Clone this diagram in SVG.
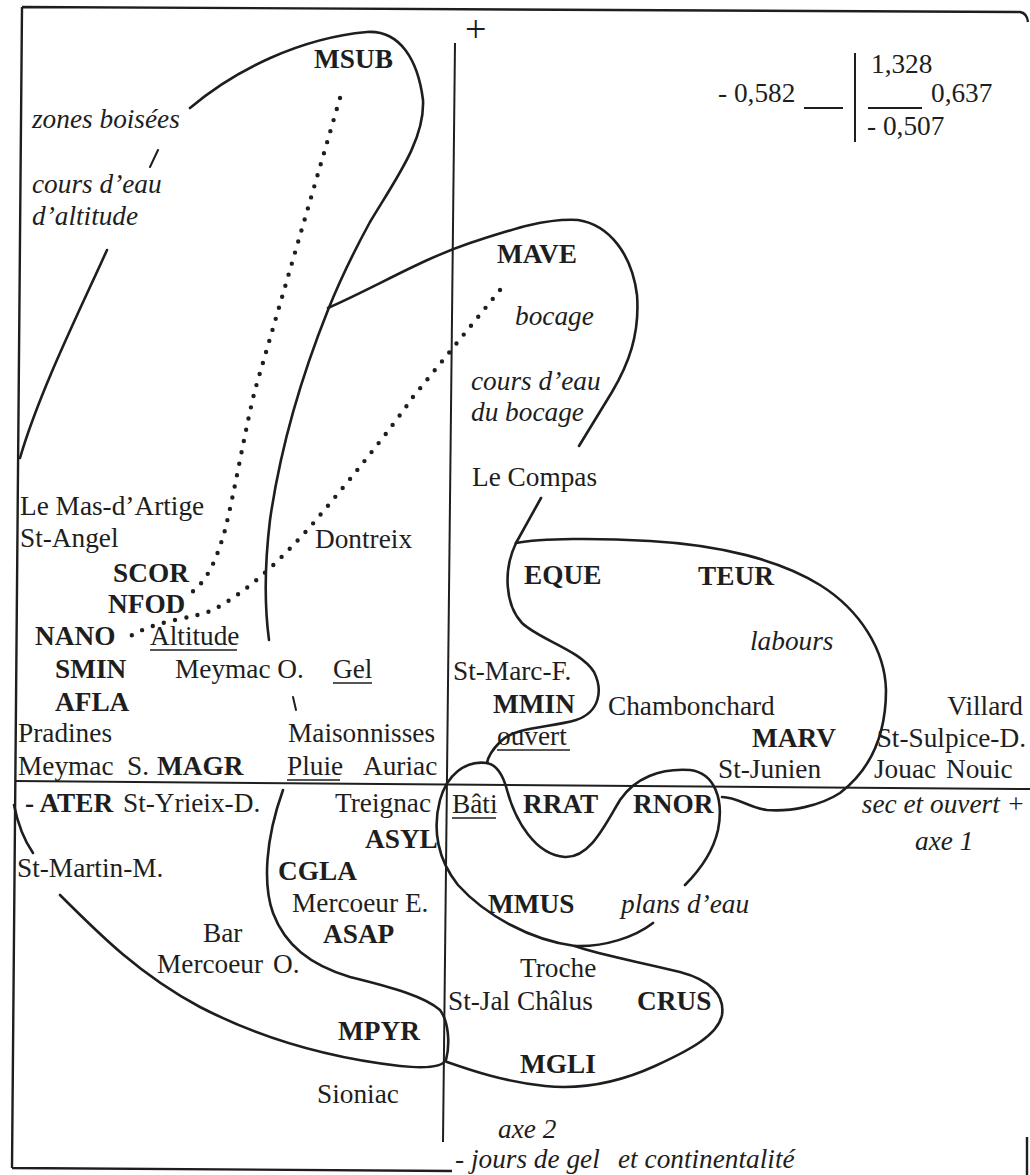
<svg xmlns="http://www.w3.org/2000/svg" width="1030" height="1175" viewBox="0 0 1030 1175">
<style>
text{font-family:"Liberation Serif","Times New Roman",serif;font-size:27.3px;fill:#1e1e1e}
.b{font-weight:bold}
.i{font-style:italic}
.e{text-anchor:end}
.plus{font-size:38px}
.ln{fill:none;stroke:#1e1e1e;stroke-width:2.6;stroke-linecap:round;stroke-linejoin:round}
.ax{fill:none;stroke:#1e1e1e;stroke-width:2}
.dot{fill:none;stroke:#1e1e1e;stroke-width:4.4;stroke-linecap:round;stroke-dasharray:0 11.5}
.ul{stroke:#1e1e1e;stroke-width:1.6}
</style>
<rect width="1030" height="1175" fill="#fff"/>
<g id="frame" class="ax" style="stroke-width:2.4">
<path d="M22,7 L12,1168 M22,7 L1020,12 Q1027,13 1028,22 M12,1168 L452,1171 M1027,1137 L1027,1175"/>
</g>
<g id="axes">
<path class="ax" d="M455,43 L443,1142"/>
<path class="ax" d="M15,781 L1030,789"/>
<text class="plus" x="465" y="42">+</text>
</g>
<g id="scale">
<text x="871" y="73">1,328</text>
<text x="718" y="102">- 0,582</text>
<text x="931" y="102">0,637</text>
<text x="867" y="135">- 0,507</text>
<path class="ax" d="M804,108 L843,108 M868,108 L922,108 M855,53 L855,142"/>
</g>
<g id="connectors">
<path class="ln" d="M190,108 C235,70 300,38 367,32 C400,30 418,60 423,100 C425,140 395,180 370,222 C352,255 338,285 328,310 C300,380 280,450 270,520 C264,570 265,610 269,640"/>
<path class="ln" d="M328,308 C380,285 420,260 470,243 C510,230 545,218 578,220 C610,225 632,255 637,295 C640,335 628,365 612,392 L579,446"/>
<path class="ln" d="M107,250 C80,310 40,390 20,458"/>
<path class="ln" d="M541,498 L516,543"/>
<path class="ln" d="M516,543 C540,538 600,538 650,541 C720,545 780,560 820,585 C860,610 885,650 886,690 C886,735 870,770 840,793 C820,806 790,812 767,810 C750,808 737,797 722,797"/>
<path class="ln" d="M516,543 C503,570 505,605 522,623 C540,640 580,650 594,672 C603,690 600,712 576,720 C550,728 515,726 500,742 C492,750 488,757 487,763"/>
<path class="ln" d="M487,763 C465,760 447,775 440,800 C432,830 438,860 458,885 C485,915 530,940 575,946 C605,947 635,937 653,923"/>
<path class="ln" d="M487,763 C497,765 503,775 507,790 C515,820 535,855 565,857 C590,858 605,825 620,800 C635,778 660,768 690,770 C715,773 724,800 718,830 C713,852 700,870 685,885"/>
<path class="ln" d="M575,946 C600,955 640,962 680,972 C710,980 725,995 722,1015 C718,1035 690,1050 655,1066 C620,1082 585,1090 545,1086 C505,1082 470,1070 447,1062"/>
<path class="ln" d="M60,895 C100,935 140,975 200,1007 C260,1038 330,1058 400,1066 C430,1069 443,1066 446,1060 C450,1045 449,1022 440,1010 C425,997 395,988 350,977 C310,965 285,945 273,913 C263,885 265,840 283,790"/>
<path class="ln" d="M14,805 C18,825 24,840 33,853"/>
<path class="ln" style="stroke-width:2" d="M150,167 L158,150 M293,697 L296,710"/>
<path class="dot" d="M340,98 L255,390 C245,430 235,490 225,530 C215,565 205,585 185,597"/>
<path class="dot" d="M500,290 L413,397 C390,430 350,480 310,527 C280,560 250,590 213,610 C190,620 160,618 127,638"/>
</g>
<g id="labels">
<text class="b" x="314" y="68">MSUB</text>
<text class="i" x="32" y="128">zones boisées</text>
<text class="i" x="32" y="193">cours d’eau</text>
<text class="i" x="32" y="225">d’altitude</text>
<text class="b" x="497" y="263">MAVE</text>
<text class="i" x="515" y="325">bocage</text>
<text class="i" x="471" y="390">cours d’eau</text>
<text class="i" x="471" y="421">du bocage</text>
<text x="472" y="486">Le Compas</text>
<text x="20" y="515">Le Mas-d’Artige</text>
<text x="20" y="547">St-Angel</text>
<text x="315" y="548">Dontreix</text>
<text class="b" x="113" y="582">SCOR</text>
<text class="b" x="524" y="584">EQUE</text>
<text class="b" x="698" y="585">TEUR</text>
<text class="b" x="108" y="613">NFOD</text>
<text class="b" x="35" y="645">NANO</text>
<text x="150" y="645">Altitude</text>
<text class="i" x="750" y="650">labours</text>
<text class="b" x="55" y="678">SMIN</text>
<text x="175" y="678">Meymac O.</text>
<text x="333" y="678">Gel</text>
<text x="453" y="680">St-Marc-F.</text>
<text class="b" x="55" y="711">AFLA</text>
<text class="b" x="493" y="713">MMIN</text>
<text x="608" y="715">Chambonchard</text>
<text class="e" x="1023" y="715">Villard</text>
<text x="18" y="742">Pradines</text>
<text x="288" y="742">Maisonnisses</text>
<text x="497" y="745">ouvert</text>
<text class="b" x="752" y="747">MARV</text>
<text class="e" x="1026" y="747">St-Sulpice-D.</text>
<text x="18" y="775">Meymac</text>
<text x="127" y="775">S.</text>
<text class="b" x="157" y="775">MAGR</text>
<text x="287" y="775">Pluie</text>
<text x="363" y="775">Auriac</text>
<text x="718" y="778">St-Junien</text>
<text x="874" y="778">Jouac</text>
<text x="946" y="778">Nouic</text>
<text class="b" x="25" y="812">- ATER</text>
<text x="123" y="812">St-Yrieix-D.</text>
<text x="335" y="812">Treignac</text>
<text x="452" y="813">Bâti</text>
<text class="b" x="523" y="813">RRAT</text>
<text class="b" x="633" y="813">RNOR</text>
<text class="i e" x="1025" y="813">sec et ouvert +</text>
<text class="b" x="365" y="848">ASYL</text>
<text class="i" x="915" y="850">axe 1</text>
<text x="17" y="877">St-Martin-M.</text>
<text class="b" x="278" y="880">CGLA</text>
<text x="292" y="912">Mercoeur E.</text>
<text class="b" x="488" y="913">MMUS</text>
<text class="i" x="621" y="913">plans d’eau</text>
<text x="203" y="942">Bar</text>
<text class="b" x="323" y="943">ASAP</text>
<text x="157" y="973">Mercoeur</text>
<text x="273" y="973">O.</text>
<text x="520" y="977">Troche</text>
<text x="448" y="1010">St-Jal Châlus</text>
<text class="b" x="637" y="1010">CRUS</text>
<text class="b" x="338" y="1040">MPYR</text>
<text class="b" x="520" y="1073">MGLI</text>
<text x="317" y="1103">Sioniac</text>
<text class="i" x="498" y="1138">axe 2</text>
<text class="i" x="455" y="1168">- jours de gel</text>
<text class="i" x="618" y="1168">et continentalité</text>
<path class="ul" d="M150,650 L237,650 M333,683 L372,683 M497,750 L570,750 M287,780 L340,780 M452,818 L496,818"/>
</g>
</svg>
